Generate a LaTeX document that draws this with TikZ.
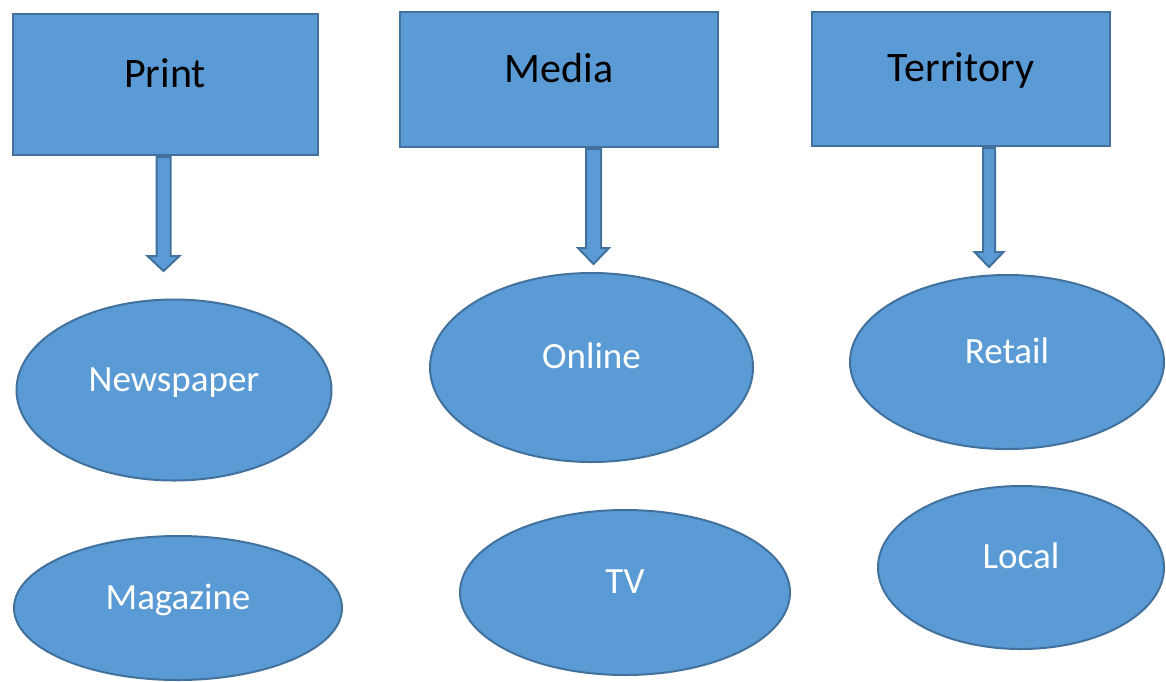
\documentclass[tikz,border=0pt]{standalone}
\usepackage{fontspec}
\setmainfont{Carlito}
\usepackage{xcolor}
\usepackage{tikz}
\usetikzlibrary{shapes.geometric,calc}

\definecolor{boxblue}{HTML}{5B9BD5}
\definecolor{edgeblue}{HTML}{41719C}

\begin{document}
\begin{tikzpicture}[
    x=1pt, y=-1pt,
    category/.style={rectangle, draw=edgeblue, fill=boxblue, line width=2pt, inner sep=0pt,
        font=\fontsize{42}{50}\selectfont, text=black, text height=32pt, text depth=27pt},
    item/.style={ellipse, draw=edgeblue, fill=boxblue, line width=2pt, inner sep=0pt,
        font=\fontsize{37}{44}\selectfont, text=white, text height=26pt, text depth=24pt},
    blockarrow/.style={draw=edgeblue, fill=boxblue, line width=2pt, line join=miter}
]
\useasboundingbox (0,0) rectangle (1166,681);

% === Categories ===
\node[category, minimum width=305pt, minimum height=141pt] (print) at (165,84.5) {Print};
\node[category, minimum width=318pt, minimum height=135pt] (media) at (559,79.5) {Media};
\node[category, minimum width=298pt, minimum height=134pt] (territory) at (961,79) {Territory};

% === Items ===
\node[item, minimum width=315pt, minimum height=181pt] (newspaper) at (174,390) {Newspaper};
\node[item, minimum width=328pt, minimum height=144pt] (magazine) at (178,608) {Magazine};
\node[item, minimum width=323pt, minimum height=189pt] (online) at (591.5,367.5) {Online};
\node[item, minimum width=330pt, minimum height=165pt] (tv) at (625,592.5) {TV};
\node[item, minimum width=314pt, minimum height=174pt] (retail) at (1007,362) {Retail};
\node[item, minimum width=286pt, minimum height=163pt] (local) at (1021,567.5) {Local};

% Arrow tips
\coordinate (print-tip) at (163.5,271);
\coordinate (media-tip) at (593.5,264);
\coordinate (territory-tip) at (989,267);

% Block arrows below each category
\foreach \src/\sw/\hw/\hl in {print/7/16/15, media/7.5/15.5/16, territory/6/14.5/15} {
    \draw[blockarrow] ($(\src.south -| \src-tip)+(-\sw,1)$) -- ($(\src-tip)+(-\sw,-\hl)$)
        -- ($(\src-tip)+(-\hw,-\hl)$) -- (\src-tip) -- ($(\src-tip)+(\hw,-\hl)$)
        -- ($(\src-tip)+(\sw,-\hl)$) -- ($(\src.south -| \src-tip)+(\sw,1)$) -- cycle;
}

\end{tikzpicture}
\end{document}
